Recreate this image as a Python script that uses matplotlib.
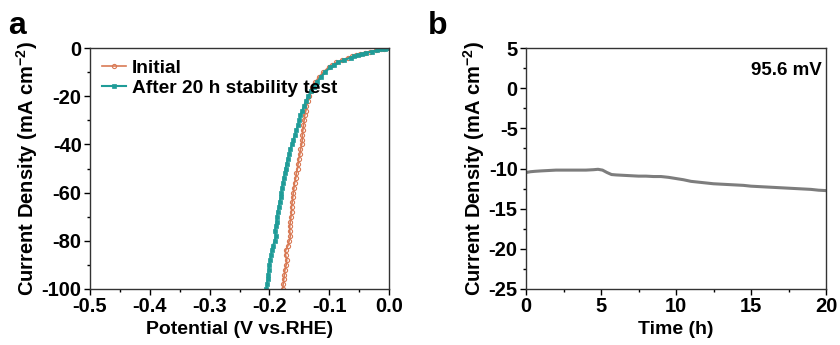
import numpy as np
import matplotlib.pyplot as plt
from matplotlib.ticker import MultipleLocator

plt.rcParams['font.family'] = 'Liberation Sans'
plt.rcParams['font.weight'] = 'bold'
plt.rcParams['axes.labelweight'] = 'bold'
plt.rcParams['mathtext.fontset'] = 'custom'
plt.rcParams['mathtext.rm'] = 'Liberation Sans:bold'
plt.rcParams['mathtext.bf'] = 'Liberation Sans:bold'
plt.rcParams['mathtext.default'] = 'bf'

# panel a: polarization curves (current density in mA cm-2, potential in V)
j_lsv = [0, -0.3, -0.6, -1, -1.5, -2, -2.5, -3, -3.5, -4, -5, -6, -7, -8, -10, -12, -14,
         -16, -18, -20, -22, -24, -26, -28, -30, -32, -34, -36, -38, -40, -42, -44, -46,
         -48, -50, -52, -54, -56, -58, -60, -62, -64, -66, -68, -70, -72, -74, -76, -78,
         -80, -82, -84, -86, -88, -90, -92, -94, -96, -98, -100]
v_initial = [0.0, -0.008, -0.014, -0.022, -0.031, -0.040, -0.048, -0.055, -0.062, -0.068,
             -0.079, -0.088, -0.095, -0.101, -0.110, -0.117, -0.123, -0.128, -0.131, -0.134,
             -0.136, -0.138, -0.139, -0.141, -0.142, -0.143, -0.144, -0.145, -0.145, -0.146,
             -0.148, -0.149, -0.151, -0.152, -0.153, -0.155, -0.156, -0.158, -0.159, -0.160,
             -0.161, -0.162, -0.163, -0.163, -0.164, -0.165, -0.166, -0.166, -0.165, -0.167,
             -0.169, -0.173, -0.173, -0.171, -0.172, -0.174, -0.175, -0.176, -0.177, -0.178]
v_after = [0.0, -0.007, -0.013, -0.020, -0.029, -0.038, -0.045, -0.052, -0.058, -0.064,
           -0.075, -0.085, -0.092, -0.098, -0.107, -0.114, -0.120, -0.126, -0.131, -0.135,
           -0.139, -0.142, -0.145, -0.148, -0.150, -0.152, -0.155, -0.157, -0.160, -0.162,
           -0.165, -0.167, -0.169, -0.171, -0.173, -0.174, -0.176, -0.177, -0.179, -0.180,
           -0.181, -0.183, -0.184, -0.186, -0.187, -0.188, -0.189, -0.191, -0.189, -0.191,
           -0.194, -0.196, -0.197, -0.199, -0.200, -0.201, -0.202, -0.203, -0.204, -0.205]

# panel b: chronoamperometry at 95.6 mV
t_hours = [0, 0.3, 0.6, 1, 1.5, 2, 2.5, 3, 3.5, 4, 4.5, 4.8, 5.1, 5.4, 5.7, 6, 6.5, 7, 7.5,
           8, 8.5, 9, 9.5, 10, 10.5, 11, 11.5, 12, 12.5, 13, 13.5, 14, 14.5, 15, 15.5, 16,
           16.5, 17, 17.5, 18, 18.5, 19, 19.5, 20]
j_time = [-10.5, -10.4, -10.35, -10.3, -10.25, -10.2, -10.2, -10.2, -10.2, -10.2, -10.15,
          -10.1, -10.2, -10.5, -10.75, -10.8, -10.85, -10.9, -10.95, -10.95, -11.0, -11.0,
          -11.1, -11.25, -11.4, -11.6, -11.7, -11.8, -11.9, -11.95, -12.0, -12.05, -12.1,
          -12.2, -12.25, -12.3, -12.35, -12.4, -12.45, -12.5, -12.55, -12.6, -12.7, -12.75]

fig = plt.figure(figsize=(8.4, 3.45), dpi=100)
ax1 = fig.add_axes([90 / 840, 56 / 345, 299 / 840, 241 / 345])
ax2 = fig.add_axes([526 / 840, 56 / 345, 300 / 840, 241 / 345])

ax1.plot(v_initial, j_lsv, color='#d97a55', lw=1.2, marker='o', ms=3, mfc='none',
         mew=0.8, label='Initial')
ax1.plot(v_after, j_lsv, color='#1f9c98', lw=1.5, marker='s', ms=3, mew=0.5,
         label='After 20 h stability test')
ax1.set_xlim(-0.5, 0.0)
ax1.set_ylim(-100, 0)
ax1.xaxis.set_minor_locator(MultipleLocator(0.05))
ax1.yaxis.set_minor_locator(MultipleLocator(10))
ax1.set_xticks(np.arange(-0.5, 0.01, 0.1))
ax1.set_xticklabels(['-0.5', '-0.4', '-0.3', '-0.2', '-0.1', '0.0'])
ax1.set_yticks([0, -20, -40, -60, -80, -100])
ax1.set_yticklabels(['0', '-20', '-40', '-60', '-80', '-100'])
ax1.set_xlabel('Potential (V vs.RHE)', fontsize=14, labelpad=3)
ax1.set_ylabel(r'Current Density (mA cm$^{-2}$)', fontsize=14.5, labelpad=1)
ax1.legend(loc='upper left', frameon=False, fontsize=13.8, handlelength=1.3,
           handletextpad=0.3, borderaxespad=0.2, labelspacing=0.15,
           bbox_to_anchor=(0.0, 1.0))

ax2.plot(t_hours, j_time, color='#7d7d7d', lw=2.2)
ax2.set_xlim(0, 20)
ax2.set_ylim(-25, 5)
ax2.xaxis.set_major_locator(MultipleLocator(5))
ax2.xaxis.set_minor_locator(MultipleLocator(2.5))
ax2.yaxis.set_minor_locator(MultipleLocator(2.5))
ax2.set_yticks([5, 0, -5, -10, -15, -20, -25])
ax2.set_yticklabels(['5', '0', '-5', '-10', '-15', '-20', '-25'])
ax2.set_xlabel('Time (h)', fontsize=14, labelpad=3)
ax2.set_ylabel(r'Current Density (mA cm$^{-2}$)', fontsize=14.5, labelpad=1)
ax2.text(0.985, 0.94, '95.6 mV', transform=ax2.transAxes, ha='right', va='top',
         fontsize=13.5)

for ax in (ax1, ax2):
    ax.tick_params(which='major', direction='out', length=4, width=1, labelsize=14.5, pad=2)
    ax.tick_params(which='minor', direction='out', length=2.5, width=1)
    for s in ax.spines.values():
        s.set_linewidth(1)
        s.set_color('#333333')

fig.text(8 / 840, 1 - 26 / 345, 'a', fontsize=23, fontweight='bold', va='center')
fig.text(428 / 840, 1 - 26 / 345, 'b', fontsize=23, fontweight='bold', va='center')

fig.savefig('out.png', dpi=100)
